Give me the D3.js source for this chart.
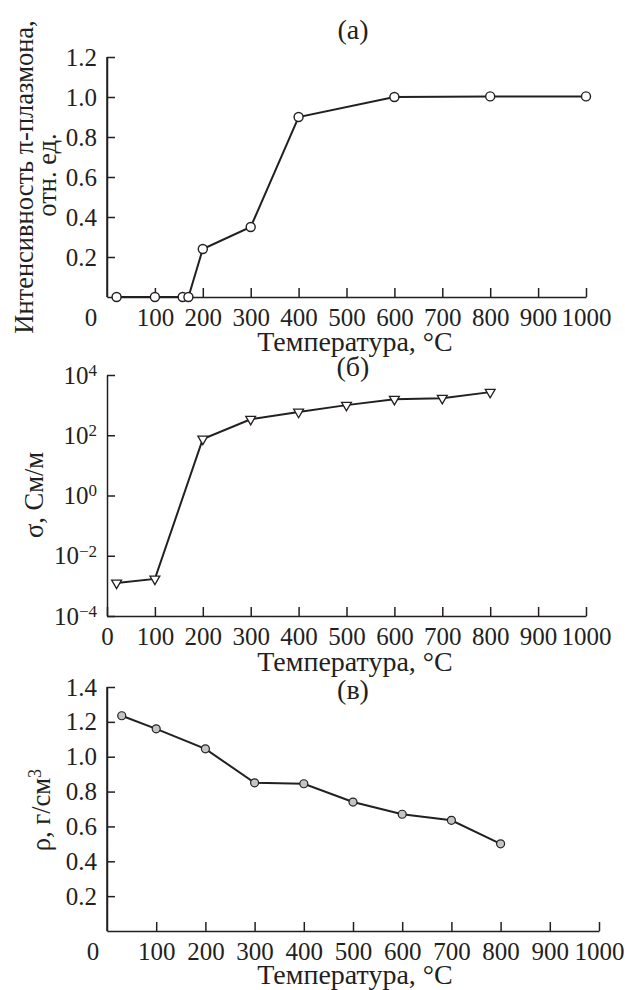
<!DOCTYPE html>
<html lang="ru">
<head>
<meta charset="UTF-8">
<title>Температурные зависимости</title>
<script src="https://cdn.jsdelivr.net/npm/d3@7"></script>
<style>
    body { margin: 0; background: #fff; }
    .axis path, .axis line { stroke: #231f20; stroke-width: 1.5; }
</style>
</head>
<body>
<svg width="625" height="990"></svg>
<script>
    // (а) интенсивность пи-плазмона
    var tempA = [20, 100, 158, 170, 200, 300, 400, 600, 800, 1000];
    var intensA = [0, 0, 0, 0, 0.24, 0.35, 0.90, 1.0, 1.003, 1.003];
    var yTicksA = [0.2, 0.4, 0.6, 0.8, 1.0, 1.2];

    // (б) проводимость
    var tempB = [20, 100, 200, 300, 400, 500, 600, 700, 800];
    var sigmaB = [1.25e-3, 1.7e-3, 75, 340, 590, 1000, 1580, 1700, 2700];
    var yTicksB = [1e-4, 1e-2, 1, 1e2, 1e4];

    // (в) плотность
    var tempC = [30, 100, 200, 300, 400, 500, 600, 700, 800];
    var rhoC = [1.235, 1.16, 1.045, 0.85, 0.845, 0.74, 0.67, 0.635, 0.50];
    var yTicksC = [0.2, 0.4, 0.6, 0.8, 1.0, 1.2, 1.4];

    var xTicks = [100, 200, 300, 400, 500, 600, 700, 800, 900, 1000];

    var FONT = '"Liberation Serif", "Times New Roman", "DejaVu Serif", serif';
    var FS = 25;      // подписи делений
    var FT = 28;      // подписи осей
    var ink = '#231f20';
    var svg = d3.select('svg').attr('font-family', FONT);

    function xAxis(g, x, y0, pad, withZero) {
        var ax = d3.axisBottom(x).tickValues(withZero ? [0].concat(xTicks) : xTicks)
            .tickFormat(d3.format('d')).tickSizeInner(-9).tickSizeOuter(0).tickPadding(pad);
        g.append('g').attr('class', 'axis').attr('transform', 'translate(0,' + y0 + ')').call(ax)
            .attr('font-family', FONT).attr('font-size', FS)
            .selectAll('text').attr('fill', ink);
    }

    function yAxis(g, y, x0, ticks, fmt) {
        var ax = d3.axisLeft(y).tickValues(ticks).tickFormat(fmt)
            .tickSizeInner(-8).tickSizeOuter(0).tickPadding(10);
        var a = g.append('g').attr('class', 'axis').attr('transform', 'translate(' + x0 + ',0)').call(ax)
            .attr('font-family', FONT).attr('font-size', FS);
        a.selectAll('text').attr('fill', ink);
        return a;
    }

    // rotated labels: (x, y) is the baseline point at the middle of the text
    function label(x, y, txt, rot, fs) {
        var t = svg.append('text').attr('x', x).attr('y', y).attr('text-anchor', 'middle')
            .attr('font-family', FONT).attr('font-size', fs || FT).attr('fill', ink).text(txt);
        if (rot) t.attr('transform', 'rotate(-90,' + x + ',' + y + ')');
        return t;
    }

    function drawLine(g, xs, ys, x, y) {
        var line = d3.line().x(function (d, i) { return x(xs[i]); }).y(function (d) { return y(d); });
        g.append('path').attr('d', line(ys)).attr('fill', 'none')
            .attr('stroke', ink).attr('stroke-width', 2);
    }

    // ---------- (а) ----------
    var xA = d3.scaleLinear().domain([0, 1000]).range([107, 586]);
    var yA = d3.scaleLinear().domain([0, 1.2]).range([297, 57]);
    var gA = svg.append('g');
    xAxis(gA, xA, 297, 11, false);
    yAxis(gA, yA, 107, yTicksA, d3.format('.1f'));
    gA.append('line').attr('x1', 107).attr('x2', 107).attr('y1', 57).attr('y2', 297)
        .attr('stroke', ink).attr('stroke-width', 1.5);
    drawLine(gA, tempA, intensA, xA, yA);
    gA.selectAll('circle').data(intensA).enter().append('circle')
        .attr('cx', function (d, i) { return xA(tempA[i]); })
        .attr('cy', function (d) { return yA(d); })
        .attr('r', 4.5).attr('fill', '#fff').attr('stroke', ink).attr('stroke-width', 1.4);
    label(91, 326, '0', false, FS);
    label(355, 351, 'Температура, °С');
    label(353, 39, '(а)');
    label(33, 177, 'Интенсивность π-плазмона,', true, 26.5);
    label(56, 175, 'отн. ед.', true, 26.5);

    // ---------- (б) ----------
    var xB = d3.scaleLinear().domain([0, 1000]).range([107, 586]);
    var yB = d3.scaleLog().domain([1e-4, 1e4]).range([616, 375]);
    var gB = svg.append('g');
    xAxis(gB, xB, 616, 11, true);
    var axB = yAxis(gB, yB, 107, yTicksB, function (d) { return ''; });
    axB.selectAll('.tick text').each(function (d) {
        var t = d3.select(this);
        t.append('tspan').text('10');
        t.append('tspan').attr('dy', '-0.45em').attr('font-size', 17)
            .text(String(Math.round(Math.log10(d))).replace('-', '−'));
    });
    drawLine(gB, tempB, sigmaB, xB, yB);
    var tri = d3.symbol().type(d3.symbolTriangle).size(42);
    gB.selectAll('path.mk').data(sigmaB).enter().append('path').attr('class', 'mk')
        .attr('d', tri)
        .attr('transform', function (d, i) { return 'translate(' + xB(tempB[i]) + ',' + yB(d) + ') rotate(180)'; })
        .attr('fill', '#fff').attr('stroke', ink).attr('stroke-width', 1.3);
    label(355, 671, 'Температура, °С');
    label(353, 376, '(б)');
    label(43, 495, 'σ, См/м', true, 26.5);

    // ---------- (в) ----------
    var xC = d3.scaleLinear().domain([0, 1000]).range([107, 599]);
    var yC = d3.scaleLinear().domain([0, 1.4]).range([931, 687]);
    var gC = svg.append('g');
    xAxis(gC, xC, 931, 11, false);
    yAxis(gC, yC, 107, yTicksC, d3.format('.1f'));
    gC.append('line').attr('x1', 107).attr('x2', 107).attr('y1', 687).attr('y2', 931)
        .attr('stroke', ink).attr('stroke-width', 1.5);
    drawLine(gC, tempC, rhoC, xC, yC);
    gC.selectAll('circle').data(rhoC).enter().append('circle')
        .attr('cx', function (d, i) { return xC(tempC[i]); })
        .attr('cy', function (d) { return yC(d); })
        .attr('r', 4).attr('fill', '#c4c4c4').attr('stroke', ink).attr('stroke-width', 1.2);
    label(93, 960, '0', false, FS);
    label(355, 984, 'Температура, °С');
    label(353, 699, '(в)');
    var rt = label(50, 810, 'ρ, г/см', true, 26.5);
    rt.append('tspan').attr('dy', '-0.5em').attr('font-size', 18).text('3');
</script>
</body>
</html>
